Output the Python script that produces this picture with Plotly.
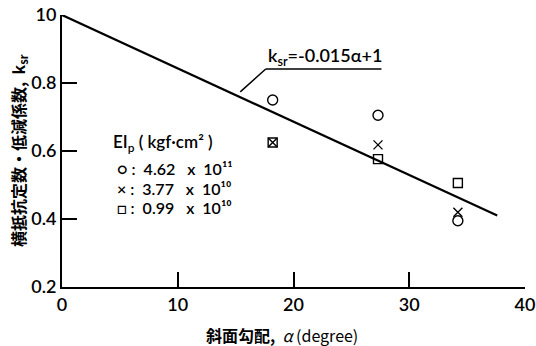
import plotly.graph_objects as go

# Data
slope_x = [18.2, 27.3, 34.2]
k_circle = [0.75, 0.705, 0.395]   # EIp = 4.62e11
k_cross = [0.625, 0.618, 0.42]    # EIp = 3.77e10
k_square = [0.625, 0.576, 0.506]  # EIp = 0.99e10

fit_x = [0, 37.6]
fit_y = [1.0, 0.41]

x_ticks = [0, 10, 20, 30, 40]
y_ticks = [0.2, 0.4, 0.6, 0.8, 1.0]
y_tick_labels = ["0.2", "0.4", "0.6", "0.8", "10"]

font_tick = "Lato, DejaVu Sans, sans-serif"
font_cjk = "Noto Sans CJK JP, sans-serif"

fig = go.Figure()
fig.add_trace(go.Scatter(x=fit_x, y=fit_y, mode="lines",
                         line=dict(color="black", width=2.2), showlegend=False))
fig.add_trace(go.Scatter(x=slope_x, y=k_circle, mode="markers", name="4.62 x 10^11",
                         marker=dict(symbol="circle-open", size=10, color="black",
                                     line=dict(width=1.4)), showlegend=False))
fig.add_trace(go.Scatter(x=slope_x, y=k_cross, mode="markers", name="3.77 x 10^10",
                         marker=dict(symbol="x-thin-open", size=9, color="black",
                                     line=dict(width=1.4, color="black")), showlegend=False))
fig.add_trace(go.Scatter(x=slope_x, y=k_square, mode="markers", name="0.99 x 10^10",
                         marker=dict(symbol="square-open", size=9, color="black",
                                     line=dict(width=1.4)), showlegend=False))

# equation label with leader line and underline
fig.add_shape(type="line", x0=15.4, y0=0.774, x1=17.6, y1=0.841,
              line=dict(color="black", width=1.5))
fig.add_shape(type="line", x0=17.6, y0=0.841, x1=27.6, y1=0.841,
              line=dict(color="black", width=1.5))
fig.add_annotation(x=17.6, y=0.835, xref="x", yref="y", xanchor="left", yanchor="bottom",
                   text="k<sub>sr</sub>=-0.015α+1", showarrow=False,
                   font=dict(family=font_tick, size=18, color="black", weight=600))

# legend block as text
legend_lines = [
    (0.624, "EI<sub>p</sub> ( kgf·cm² )", 4.2, 17),
    (0.55, "○ :  4.62   x  10¹¹", 4.6, 16),
    (0.491, "× :  3.77   x  10¹⁰", 4.6, 16),
    (0.435, "□ :  0.99   x  10¹⁰", 4.6, 16),
]
for yy, txt, xx, fs in legend_lines:
    fig.add_annotation(x=xx, y=yy, xref="x", yref="y", xanchor="left", yanchor="middle",
                       text=txt, showarrow=False,
                       font=dict(family=font_tick, size=fs, color="black", weight=600))

# axis titles
fig.add_annotation(x=(282 - 62) / 463, y=-0.176, xref="paper", yref="paper",
                   xanchor="center", yanchor="middle", showarrow=False,
                   text="<b>斜面勾配,  </b><i>α</i> (degree)",
                   font=dict(family=font_cjk, size=16, color="black"))
fig.add_annotation(x=-0.095, y=0.5, xref="paper", yref="paper", textangle=-90,
                   xanchor="center", yanchor="middle", showarrow=False,
                   text="<b>横抵抗定数・低減係数,  k<sub>sr</sub></b>",
                   font=dict(family=font_cjk, size=16, color="black"))

fig.update_layout(
    width=536, height=346,
    margin=dict(l=62, r=11, t=15, b=59, autoexpand=False),
    paper_bgcolor="white", plot_bgcolor="white",
    showlegend=False,
    xaxis=dict(range=[0, 40], tickvals=x_ticks, ticks="inside", ticklen=15,
               tickwidth=1.5, tickcolor="black", showline=True, linecolor="black",
               linewidth=2, showgrid=False, zeroline=False, automargin=False,
               tickfont=dict(family=font_tick, size=18, color="black", weight=600)),
    yaxis=dict(range=[0.2, 1.0], tickvals=y_ticks, ticktext=y_tick_labels,
               ticks="inside", ticklen=15, tickwidth=1.5, tickcolor="black",
               showline=True, linecolor="black", linewidth=2, showgrid=False,
               zeroline=False, automargin=False,
               tickfont=dict(family=font_tick, size=18, color="black", weight=600)),
)

fig.write_html("out.html", config={"displayModeBar": False},
               post_script="document.body.style.margin='0';")
